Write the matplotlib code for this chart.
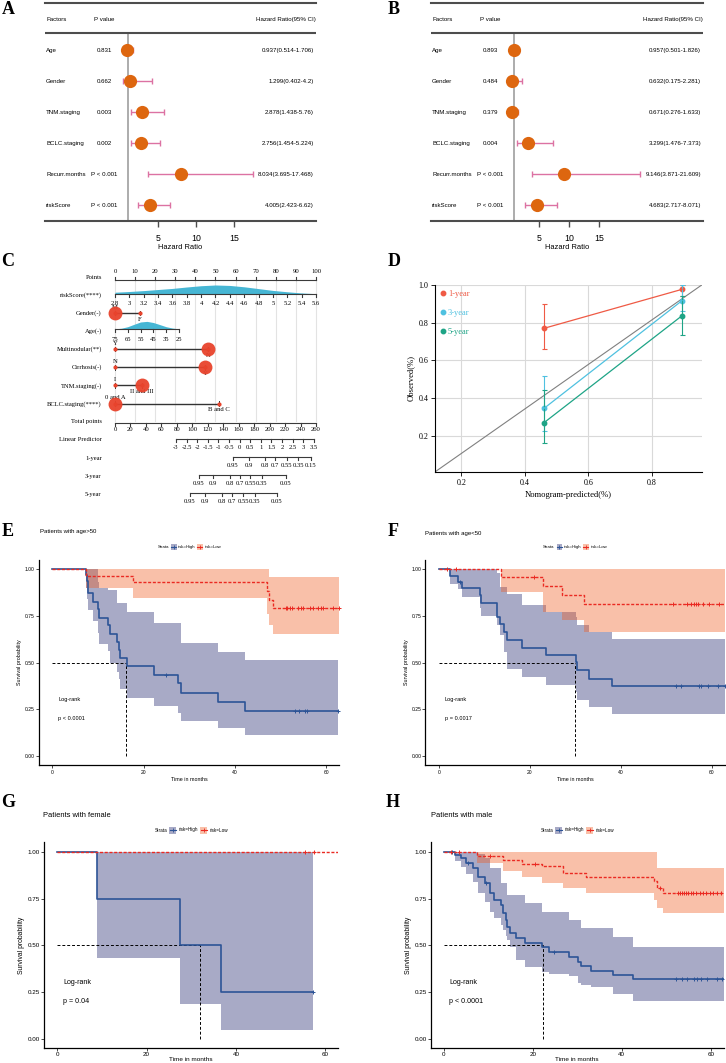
import numpy as np
import matplotlib
matplotlib.use("Agg")
import matplotlib.pyplot as plt
from matplotlib import transforms
from matplotlib.patches import Rectangle

plt.rcParams['font.family'] = ['Liberation Sans', 'DejaVu Sans']
SERIF = ['Liberation Serif', 'DejaVu Serif']

W, H = 726, 1063

# ---------------- A / B : Cox forest plots ----------------
factors = ['Age', 'Gender', 'TNM.staging', 'BCLC.staging', 'Recurr.months', 'riskScore']
a_p = ['0.831', '0.662', '0.003', '0.002', 'P < 0.001', 'P < 0.001']
a_hr = [0.937, 1.299, 2.878, 2.756, 8.034, 4.005]
a_lo = [0.514, 0.402, 1.438, 1.454, 3.695, 2.423]
a_hi = [1.706, 4.2, 5.76, 5.224, 17.468, 6.62]
b_p = ['0.893', '0.484', '0.379', '0.004', 'P < 0.001', 'P < 0.001']
b_hr = [0.957, 0.632, 0.671, 3.299, 9.146, 4.683]
b_lo = [0.501, 0.175, 0.276, 1.476, 3.871, 2.717]
b_hi = [1.826, 2.281, 1.633, 7.373, 21.609, 8.071]

# ---------------- C : nomogram ----------------
nomo_rows = ['Points', 'riskScore(****)', 'Gender(-)', 'Age(-)', 'Multinodular(**)',
             'Cirrhosis(-)', 'TNM.staging(-)', 'BCLC.staging(****)', 'Total points',
             'Linear Predictor', '1-year', '3-year', '5-year']
points_ticks = list(range(0, 101, 10))
risk_ticks = [2.8, 3, 3.2, 3.4, 3.6, 3.8, 4, 4.2, 4.4, 4.6, 4.8, 5, 5.2, 5.4, 5.6]
risk_dens = [0.2, 0.28, 0.38, 0.5, 0.62, 0.78, 0.92, 1.0, 0.95, 0.8, 0.6, 0.4, 0.25, 0.12, 0.04]
age_ticks = [75, 65, 55, 45, 35, 25]
age_max_pts = 31.8
age_dens_x = [75, 70, 65, 60, 55, 50, 45, 40, 35, 30, 25]
age_dens = [0.02, 0.1, 0.3, 0.62, 0.92, 1.0, 0.85, 0.58, 0.3, 0.12, 0.02]
cat_rows = {  # row: (levels, points, selected level)
    2: (['M', 'F'], [0, 12.4], 0),
    4: (['Y', 'N'], [0, 46.3], 1),
    5: (['N', 'Y'], [0, 44.8], 1),
    6: (['I', 'II and III'], [0, 13.4], 1),
    7: (['0 and A', 'B and C'], [0, 51.7], 0),
}
total_ticks = list(range(0, 261, 20))
lp_ticks = [-3, -2.5, -2, -1.5, -1, -0.5, 0, 0.5, 1, 1.5, 2, 2.5, 3, 3.5]
lp_total = (78.9, 27.46)  # total points at LP=-3, total points per LP unit
surv_probs = [0.95, 0.9, 0.8, 0.7, 0.55, 0.35]
surv_1y_probs = surv_probs + [0.15]
surv_1y_lp = [-0.315, 0.439, 1.19, 1.66, 2.23, 2.75, 3.36]
surv_3y_probs = surv_probs + [0.05]
surv_3y_lp = [-1.92, -1.26, -0.46, 0.01, 0.49, 1.05, 2.18]
surv_5y_probs = surv_probs + [0.05]
surv_5y_lp = [-2.34, -1.63, -0.83, -0.36, 0.16, 0.72, 1.76]

# ---------------- D : calibration ----------------
cal_pred = [0.46, 0.895]
cal_1y = [0.77, 0.977]; cal_1y_lo = [0.66, 0.94]; cal_1y_hi = [0.90, 1.0]
cal_3y = [0.345, 0.917]; cal_3y_lo = [0.227, 0.86]; cal_3y_hi = [0.517, 1.0]
cal_5y = [0.269, 0.837]; cal_5y_lo = [0.164, 0.736]; cal_5y_hi = [0.441, 0.94]

# ---------------- E-H : Kaplan-Meier ----------------
e_hi_t = [0, 7.4, 7.6, 7.9, 9.0, 10.1, 10.3, 12.1, 12.6, 14.2, 14.5, 14.8, 16.3, 22.3, 27.5, 28.2, 36.4, 42.2]
e_hi_s = [1, .967, .934, .87, .824, .788, .74, .70, .655, .61, .566, .522, .481, .436, .388, .338, .29, .242]
e_hi_up = [1, 1, 1, 1, 1, .93, .90, .887, .887, .816, .816, .816, .77, .71, .71, .605, .557, .513]
e_hi_lo = [1, .90, .84, .78, .72, .66, .60, .56, .50, .45, .41, .36, .31, .27, .23, .19, .15, .115]
e_hi_cens = [24.8, 53.2, 54.1, 55.4, 55.9, 62.7]
e_lo_t = [0, 7.4, 17.6, 47.0, 47.5, 48.3]
e_lo_s = [1, .963, .931, .88, .835, .79]
e_lo_up = [1, 1, 1, 1, .96, .956]
e_lo_lo = [1, .897, .844, .76, .70, .655]
e_lo_cens = [51.1, 51.5, 52.0, 52.6, 53.9, 54.5, 55.0, 56.5, 57.2, 58.3, 58.9, 59.4, 61.5, 62.9]

f_hi_t = [0, 2.5, 4.2, 5.1, 9.1, 9.4, 12.8, 13.5, 14.4, 15.1, 18.3, 23.5, 30.1, 30.4, 33.1, 38.0]
f_hi_s = [1, .962, .93, .90, .86, .82, .745, .704, .664, .623, .58, .539, .503, .459, .414, .373]
f_hi_up = [1, 1, 1, 1, 1, 1, .98, .904, .904, .869, .807, .77, .745, .70, .664, .628]
f_hi_lo = [1, .92, .895, .85, .79, .75, .70, .646, .557, .468, .424, .379, .343, .299, .26, .224]
f_hi_cens = [4.6, 52.1, 53.2, 57.1, 57.6, 59.2, 61.4, 62.9]
f_lo_t = [0, 13.7, 23.0, 27.2, 31.9]
f_lo_s = [1, .958, .908, .86, .811]
f_lo_up = [1, 1, 1, 1, 1]
f_lo_lo = [1, .878, .77, .727, .664]
f_lo_cens = [1.9, 3.7, 20.9, 51.6, 54.6, 55.4, 56.0, 56.5, 57.0, 58.0, 59.3, 61.7]

g_hi_t = [0, 8.8, 27.5, 36.6]
g_hi_s = [1, .75, .5, .25]
g_hi_up = [1, 1, 1, 1]
g_hi_lo = [1, .43, .188, .048]
g_hi_cens = [57.2]
g_lo_t = [0]
g_lo_s = [1]
g_lo_up = [1]
g_lo_lo = [1]
g_lo_cens = [55.5, 57.5]

h_hi_t = [0, 2.5, 3.8, 4.9, 6.5, 7.7, 9.2, 10.3, 11.4, 12.9, 13.3, 13.9, 14.2, 14.8, 16.3, 18.2,
          22.2, 23.7, 28.2, 30.1, 30.8, 33.1, 38.0, 42.5]
h_hi_s = [1, .982, .965, .938, .911, .867, .831, .781, .742, .715, .671, .635, .60, .564, .538, .514,
          .493, .466, .439, .413, .39, .365, .342, .319]
h_hi_up = [1, 1, 1, 1, 1, .985, .964, .911, .911, .831, .831, .831, .769, .769, .769, .724,
           .68, .68, .635, .635, .591, .591, .543, .493]
h_hi_lo = [1, .95, .92, .88, .84, .778, .73, .68, .644, .61, .582, .55, .529, .493, .422, .383,
           .359, .345, .336, .297, .29, .279, .24, .204]
h_hi_cens = [1.9, 5.5, 9.6, 24.8, 52.3, 53.6, 54.6, 56.2, 57.0, 57.9, 59.2, 61.5, 62.6]
h_lo_t = [0, 7.5, 13.3, 17.5, 22.2, 26.7, 31.9, 47.2, 48.0, 49.3]
h_lo_s = [1, .977, .956, .935, .925, .888, .867, .845, .805, .778]
h_lo_up = [1, 1, 1, 1, 1, 1, 1, 1, .911, .911]
h_lo_lo = [1, .938, .899, .867, .831, .805, .778, .742, .698, .671]
h_lo_cens = [1.6, 3.5, 10.4, 20.5, 48.6, 52.6, 53.0, 53.5, 54.0, 54.5, 55.0, 55.5, 56.0, 56.7,
             57.5, 58.2, 59.0, 59.8, 60.5, 61.5, 62.3]

fig = plt.figure(figsize=(W / 100, H / 100), dpi=100)
PX = transforms.Affine2D().scale(0.01, -0.01).translate(0, H / 100) + fig.dpi_scale_trans


def rect(x0, y0, x1, y1):
    return [x0 / W, 1 - y1 / H, (x1 - x0) / W, (y1 - y0) / H]


for lab, x, y in [('A', 8, 9.5), ('B', 394, 9.5), ('C', 8, 262), ('D', 394, 262),
                  ('E', 8, 532), ('F', 393, 532), ('G', 8, 802.5), ('H', 393, 802.5)]:
    fig.text(x, y, lab, transform=PX, family=SERIF, weight='bold', fontsize=13,
             ha='center', va='center')


# ---------- forest plots ----------
def forest(box, xlim, pcol, pv, hr, lo, hi):
    ax = fig.add_axes(rect(*box))
    hr, lo, hi = map(np.asarray, (hr, lo, hi))
    y = np.arange(len(factors))
    ax.set_xlim(*xlim)
    ax.set_ylim(len(factors) - 0.5, -1.516)
    ax.spines[['left', 'right']].set_visible(False)
    for s in ('top', 'bottom'):
        ax.spines[s].set_color('#4d4d4d')
        ax.spines[s].set_linewidth(1.5)
    ax.axhline(-0.55, color='#4d4d4d', lw=1.5)
    ax.plot([1, 1], [-0.55, len(factors) - 0.5], color='#a6a6a6', lw=1.3, zorder=1)
    ax.errorbar(hr, y, xerr=[hr - lo, hi - hr], fmt='none', ecolor='#dc72a3',
                elinewidth=1.0, capsize=2.3, capthick=1.0, zorder=2)
    ax.plot(hr, y, 'o', color='#dd660f', ms=9.5, mec='none', zorder=3)
    ax.set_yticks([])
    ax.set_xticks([5, 10, 15])
    ax.tick_params(axis='x', length=4, width=1, color='#4d4d4d', labelsize=6.3, pad=6)
    ax.set_xlabel('Hazard Ratio', fontsize=5.4, labelpad=0.5)
    tr = transforms.blended_transform_factory(ax.transAxes, ax.transData)
    kw = dict(transform=tr, fontsize=4.4, va='center')
    ax.text(0.004, -1, 'Factors', **kw)
    ax.text(pcol, -1, 'P value', ha='center', **kw)
    ax.text(1.0, -1, 'Hazard Ratio(95% CI)', ha='right', **kw)
    for i in y:
        ax.text(0.004, i, factors[i], **kw)
        ax.text(pcol, i, pv[i], ha='center', **kw)
        ax.text(0.993, i, f'{hr[i]:g}({lo[i]:g}-{hi[i]:g})', ha='right', **kw)


forest((45, 3, 316, 220.6), (-9.87, 25.79), 0.218, a_p, a_hr, a_lo, a_hi)
forest((431, 3, 703, 220.6), (-12.74, 32.07), 0.217, b_p, b_hr, b_lo, b_hi)

# ---------- nomogram ----------
axc = fig.add_axes(rect(0, 262, 363, 510))
axc.set_xlim(-57.2, 123.4)
axc.set_ylim(12.87, -0.83)
axc.axis('off')
LN = dict(color='#3a3a3a', lw=0.8)


def ntext(x, y, s, fs=4.8, ha='center'):
    axc.text(x, y, s, ha=ha, va='center', fontsize=fs, family=SERIF)


def nomo_axis(y, pts, labels, lab_y, tdir=1):
    axc.plot([min(pts), max(pts)], [y, y], **LN)
    for p_, l_ in zip(pts, labels):
        axc.plot([p_, p_], [y, y + 0.17 * tdir], **LN)
        ntext(p_, lab_y, l_)


for i, name in enumerate(nomo_rows):
    ntext(-6.6, i, name, fs=4.7, ha='right')

for p_ in points_ticks:
    axc.plot([p_, p_], [0.17, 7.95], color='#e3e3e3', lw=0.8, zorder=0)

nomo_axis(0.17, points_ticks, [str(v) for v in points_ticks], -0.28, tdir=-1)

risk_pts = [(v - risk_ticks[0]) / (risk_ticks[-1] - risk_ticks[0]) * 100 for v in risk_ticks]
axc.fill_between(risk_pts, 0.94, 0.94 - 0.5 * np.array(risk_dens), color='#46b6d4', lw=0)
nomo_axis(0.94, risk_pts, [f'{v:g}' for v in risk_ticks], 1.44)

age_pts = [(75 - a) / 50 * age_max_pts for a in age_ticks]
age_dx = [(75 - a) / 50 * age_max_pts for a in age_dens_x]
axc.fill_between(age_dx, 2.87, 2.87 - 0.42 * np.array(age_dens), color='#46b6d4', lw=0)
nomo_axis(2.87, age_pts, [str(a) for a in age_ticks], 3.43)

for row, (levels, pts, sel) in cat_rows.items():
    y = row - 0.01
    axc.plot(pts, [y, y], color='#333333', lw=1.0)
    for p_ in pts:
        axc.plot([p_, p_], [y - 0.12, y + 0.12], color='#333333', lw=0.7)
    ntext(pts[0], y - 0.31, levels[0])
    ntext(pts[1], y + 0.33, levels[1])
    axc.plot(pts, [y, y], 'o', color='#e8432c', ms=3, mec='none', zorder=4)
    axc.plot(pts[sel], y, 'o', color='#e8432c', ms=10, mec='none', alpha=0.95, zorder=5)

tot_pts = [t / total_ticks[-1] * 100 for t in total_ticks]
nomo_axis(8.07, tot_pts, [str(t) for t in total_ticks], 8.45)


def lp_to_pts(lp):
    return (lp_total[0] + (np.asarray(lp) + 3) * lp_total[1]) / total_ticks[-1] * 100


nomo_axis(8.95, lp_to_pts(lp_ticks), [f'{v:g}' for v in lp_ticks], 9.39)
nomo_axis(9.93, lp_to_pts(surv_1y_lp), [f'{v:g}' for v in surv_1y_probs], 10.39)
nomo_axis(10.92, lp_to_pts(surv_3y_lp), [f'{v:g}' for v in surv_3y_probs], 11.38)
nomo_axis(11.92, lp_to_pts(surv_5y_lp), [f'{v:g}' for v in surv_5y_probs], 12.38)

# ---------- calibration ----------
axd = fig.add_axes(rect(435.3, 285, 701.7, 471.7))
axd.set_xlim(0.118, 0.957)
axd.set_ylim(0.0095, 1.0)
axd.grid(color='#d9d9d9', lw=0.8)
axd.set_axisbelow(True)
axd.spines[['top', 'right']].set_visible(False)
axd.plot([0, 1], [0, 1], transform=axd.transAxes, color='#808080', lw=0.8)
cal_sets = [('1-year', cal_1y, cal_1y_lo, cal_1y_hi, '#ef5a45'),
            ('3-year', cal_3y, cal_3y_lo, cal_3y_hi, '#4fc1e0'),
            ('5-year', cal_5y, cal_5y_lo, cal_5y_hi, '#1ea486')]
handles = []
for name, obs, lo, hi, c in cal_sets:
    obs, lo, hi = map(np.asarray, (obs, lo, hi))
    axd.errorbar(cal_pred, obs, yerr=[obs - lo, hi - obs], color=c, lw=0.9,
                 capsize=1.8, capthick=0.8, elinewidth=0.8)
    h, = axd.plot(cal_pred, obs, 'o', color=c, ms=3.2, label=name)
    handles.append(h)
axd.legend(handles=handles, loc='upper left', frameon=False, handlelength=0.6,
           handletextpad=0.3, labelspacing=1.3, borderaxespad=0.2,
           prop=dict(family=SERIF, size=6), labelcolor='linecolor',
           bbox_to_anchor=(0.0, 1.0))
axd.set_xticks([0.2, 0.4, 0.6, 0.8])
axd.set_yticks([0.2, 0.4, 0.6, 0.8, 1.0])
axd.set_xticklabels(['0.2', '0.4', '0.6', '0.8'], family=SERIF)
axd.set_yticklabels(['0.2', '0.4', '0.6', '0.8', '1.0'], family=SERIF)
axd.tick_params(labelsize=5.8, length=3, width=0.6, pad=2)
axd.set_xlabel('Nomogram-predicted(%)', family=SERIF, fontsize=6.2, labelpad=3)
axd.set_ylabel('Observed(%)', family=SERIF, fontsize=6.2, labelpad=3)

# ---------- Kaplan-Meier ----------
BLUE, BLUE_F = '#2d5496', '#52578f'
RED, RED_F = '#ea2a22', '#f05a1e'


def km_curve(ax, t, s, lo, up, end, cens, col, fcol, falpha, ls, lw):
    tt = np.append(t, end)
    ax.fill_between(tt, np.append(lo, lo[-1]), np.append(up, up[-1]), step='post',
                    color=fcol, alpha=falpha, lw=0, zorder=1)
    ax.step(tt, np.append(s, s[-1]), where='post', color=col, ls=ls, lw=lw, zorder=4)
    idx = np.searchsorted(t, cens, side='right') - 1
    ax.plot(cens, np.asarray(s)[idx], '+', color=col, ms=3, mew=0.7, zorder=5,
            clip_on=False)


def km_panel(box, hi, lo, median, pval, title, title_xy, leg_y, big):
    fs = 1.25 if big else 1.0
    ax = fig.add_axes(rect(*box))
    ax.set_xlim(-2.9, 62.9)
    ax.set_ylim(-0.05, 1.05)
    ax.spines[['top', 'right']].set_visible(False)
    for s in ('left', 'bottom'):
        ax.spines[s].set_linewidth(0.9)
    km_curve(ax, *hi, BLUE, BLUE_F, 0.5, '-', 1.2)
    km_curve(ax, *lo, RED, RED_F, 0.38, (0, (2.2, 1.2)), 1.0)
    ax.plot([0, median], [0.5, 0.5], color='k', lw=0.7, ls=(0, (3, 2)), zorder=3)
    ax.plot([median, median], [0, 0.5], color='k', lw=0.7, ls=(0, (3, 2)), zorder=3)
    ax.text(1.3, 0.30, 'Log-rank', fontsize=4.1 * fs, va='center')
    ax.text(1.3, 0.20, pval, fontsize=4.1 * fs, va='center')
    ax.set_xticks([0, 20, 40, 60])
    ax.set_yticks([0, 0.25, 0.5, 0.75, 1.0])
    ax.set_yticklabels(['0.00', '0.25', '0.50', '0.75', '1.00'])
    ax.tick_params(labelsize=3.6 * fs, length=2, width=0.5, pad=1)
    ax.tick_params(axis='x', pad=0.6 if big else 1)
    ax.set_xlabel('Time in months', fontsize=(3.9 * fs if not big else 4.6),
                  labelpad=(0.2 if big else 1.5))
    ax.set_ylabel('Survival probability', fontsize=3.9 * fs, labelpad=2)
    fig.text(title_xy[0], title_xy[1], title, transform=PX, fontsize=4.3 * fs, va='center')
    # legend
    cx = (box[0] + box[2]) / 2
    k = 1.0 if big else 0.85
    lf = 3.1 * (1.08 if big else 1.0)
    fig.text(cx - 24 * k, leg_y, 'Strata', transform=PX, fontsize=lf, ha='right', va='center')
    for x0, col, fcol, fa, lab in [(cx - 22 * k, BLUE, BLUE_F, 0.5, 'risk=High'),
                                   (cx + 9 * k, RED, RED_F, 0.38, 'risk=Low')]:
        fig.patches.append(Rectangle((x0, leg_y - 3.5 * k), 7 * k, 7 * k, transform=PX,
                                     facecolor=fcol, alpha=fa, lw=0))
        fig.lines.append(plt.Line2D([x0 + 0.5, x0 + 7 * k - 0.5], [leg_y, leg_y],
                                    transform=PX, color=col, lw=0.8))
        fig.lines.append(plt.Line2D([x0 + 3.5 * k], [leg_y], transform=PX, color=col,
                                    marker='+', ms=2.5, mew=0.6))
        fig.text(x0 + 9 * k, leg_y, lab, transform=PX, fontsize=lf, va='center')
    return ax


km_panel((39.1, 559.7, 339.4, 765.4),
         (e_hi_t, e_hi_s, e_hi_lo, e_hi_up, 62.7, e_hi_cens),
         (e_lo_t, e_lo_s, e_lo_lo, e_lo_up, 62.9, e_lo_cens),
         16.2, 'p < 0.0001', 'Patients with age>50', (40, 532), 547, False)
km_panel((425.5, 559.7, 724.9, 765.4),
         (f_hi_t, f_hi_s, f_hi_lo, f_hi_up, 62.9, f_hi_cens),
         (f_lo_t, f_lo_s, f_lo_lo, f_lo_up, 62.9, f_lo_cens),
         30.0, 'p = 0.0017', 'Patients with age<50', (425, 533), 547, False)
km_panel((44.3, 842.3, 338.3, 1048.4),
         (g_hi_t, g_hi_s, g_hi_lo, g_hi_up, 57.2, g_hi_cens),
         (g_lo_t, g_lo_s, g_lo_lo, g_lo_up, 62.9, g_lo_cens),
         32.0, 'p = 0.04', 'Patients with female', (43.3, 815.7), 830, True)
km_panel((430.8, 842.3, 723.6, 1048.4),
         (h_hi_t, h_hi_s, h_hi_lo, h_hi_up, 62.9, h_hi_cens),
         (h_lo_t, h_lo_s, h_lo_lo, h_lo_up, 62.9, h_lo_cens),
         22.3, 'p < 0.0001', 'Patients with male', (430.7, 815.7), 830, True)

fig.savefig('out.png', dpi=100)
